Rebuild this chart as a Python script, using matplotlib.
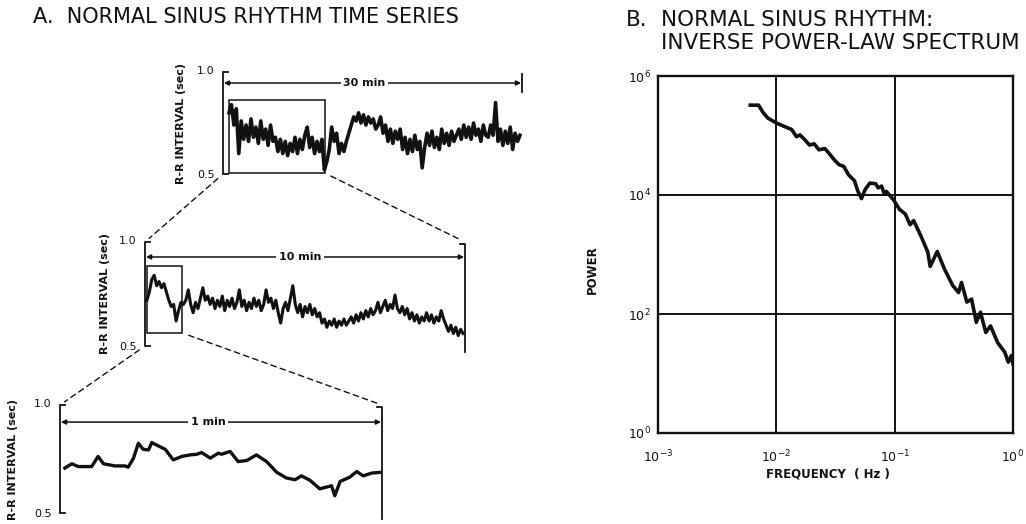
import numpy as np
import matplotlib
matplotlib.use("Agg")
import matplotlib.pyplot as plt
from matplotlib.patches import Rectangle, ConnectionPatch

W, H = 1026, 524
INK = "#111111"

# ── R-R interval, 30 min record (sec), read every ~0.25 min from 0.6 to 29.8 min
rr_30min = [0.80, 0.84, 0.74, 0.82, 0.60, 0.76, 0.67, 0.74, 0.66, 0.77,
            0.68, 0.73, 0.65, 0.76, 0.67, 0.72, 0.64, 0.74, 0.66, 0.68,
            0.61, 0.67, 0.60, 0.66, 0.59, 0.65, 0.61, 0.68, 0.60, 0.67,
            0.62, 0.69, 0.73, 0.63, 0.68, 0.60, 0.66, 0.61, 0.67, 0.52,
            0.56, 0.62, 0.73, 0.66, 0.70, 0.60, 0.65, 0.61, 0.66, 0.70,
            0.74, 0.78, 0.76, 0.80, 0.75, 0.79, 0.74, 0.78, 0.75, 0.77,
            0.72, 0.74, 0.78, 0.70, 0.74, 0.66, 0.72, 0.65, 0.71, 0.67,
            0.72, 0.62, 0.68, 0.60, 0.67, 0.61, 0.69, 0.62, 0.66, 0.53,
            0.63, 0.70, 0.64, 0.71, 0.63, 0.68, 0.62, 0.72, 0.65, 0.70,
            0.64, 0.71, 0.66, 0.69, 0.72, 0.67, 0.74, 0.68, 0.73, 0.67,
            0.75, 0.69, 0.72, 0.66, 0.74, 0.69, 0.68, 0.74, 0.69, 0.85,
            0.66, 0.72, 0.64, 0.71, 0.65, 0.73, 0.62, 0.70, 0.66, 0.69]
t_30min = np.linspace(0.6, 29.8, len(rr_30min))

# ── R-R interval, first 10 min (sec)
rr_10min = [0.72, 0.76, 0.82, 0.84, 0.79, 0.81, 0.78, 0.80, 0.76, 0.72,
            0.69, 0.70, 0.62, 0.67, 0.71, 0.70, 0.72, 0.77, 0.70, 0.66,
            0.71, 0.68, 0.73, 0.78, 0.72, 0.74, 0.70, 0.73, 0.68, 0.72,
            0.69, 0.74, 0.67, 0.72, 0.69, 0.73, 0.68, 0.71, 0.77, 0.69,
            0.72, 0.67, 0.71, 0.68, 0.73, 0.69, 0.72, 0.67, 0.70, 0.77,
            0.71, 0.73, 0.68, 0.72, 0.66, 0.61, 0.68, 0.71, 0.67, 0.73,
            0.79, 0.70, 0.66, 0.70, 0.64, 0.69, 0.66, 0.70, 0.65, 0.68,
            0.64, 0.66, 0.61, 0.63, 0.59, 0.62, 0.60, 0.63, 0.59, 0.62,
            0.60, 0.63, 0.60, 0.62, 0.64, 0.61, 0.65, 0.62, 0.66, 0.63,
            0.67, 0.64, 0.68, 0.65, 0.67, 0.71, 0.66, 0.69, 0.72, 0.67,
            0.70, 0.68, 0.745, 0.68, 0.66, 0.69, 0.65, 0.68, 0.63, 0.66,
            0.62, 0.65, 0.61, 0.64, 0.62, 0.66, 0.62, 0.65, 0.61, 0.64,
            0.62, 0.67, 0.63, 0.60, 0.57, 0.60, 0.56, 0.59, 0.55, 0.58,
            0.56]
t_10min = np.linspace(0.06, 9.94, len(rr_10min))

# ── R-R interval, first 1 min (time in sec)
t_1min = [0.9, 2.2, 3.4, 5.9, 7.1, 8.1, 10.2, 12.1, 12.7, 13.7, 14.6, 15.5,
          16.5, 17.1, 18.3, 19.6, 21.1, 22.7, 24.2, 25.5, 26.4, 28.0, 29.5,
          30.1, 31.7, 33.2, 34.8, 36.6, 38.5, 40.4, 42.2, 43.8, 45.0, 46.6,
          48.4, 50.6, 51.2, 52.2, 54.0, 55.3, 56.5, 58.1, 59.6]
rr_1min = [0.708, 0.728, 0.715, 0.715, 0.762, 0.728, 0.718, 0.718, 0.712,
           0.754, 0.823, 0.795, 0.792, 0.826, 0.811, 0.795, 0.746, 0.762,
           0.769, 0.772, 0.780, 0.754, 0.777, 0.772, 0.785, 0.738, 0.743,
           0.769, 0.738, 0.688, 0.662, 0.654, 0.672, 0.651, 0.612, 0.626,
           0.580, 0.646, 0.666, 0.692, 0.672, 0.685, 0.688]

# ── power spectrum (log10 Hz, log10 power)
log_freq = [-2.22, -2.15, -2.11, -2.07, -2.00, -1.93, -1.87, -1.83, -1.80,
            -1.76, -1.72, -1.68, -1.64, -1.59, -1.55, -1.51, -1.47, -1.43,
            -1.39, -1.34, -1.31, -1.28, -1.25, -1.21, -1.16, -1.14, -1.11,
            -1.09, -1.07, -1.01, -0.96, -0.91, -0.87, -0.84, -0.78, -0.72,
            -0.70, -0.64, -0.58, -0.51, -0.46, -0.435, -0.39, -0.35, -0.31,
            -0.275, -0.23, -0.19, -0.13, -0.07, -0.04, -0.014, 0.0]
log_power = [5.51, 5.51, 5.38, 5.29, 5.21, 5.15, 5.10, 4.98, 5.01,
             4.93, 4.84, 4.86, 4.76, 4.78, 4.69, 4.59, 4.51, 4.48,
             4.34, 4.24, 4.06, 3.94, 4.09, 4.20, 4.19, 4.12, 4.15,
             4.03, 4.06, 3.92, 3.76, 3.68, 3.50, 3.57, 3.32, 3.04,
             2.80, 3.05, 2.76, 2.48, 2.36, 2.53, 2.20, 2.25, 1.86,
             2.03, 1.69, 1.80, 1.52, 1.36, 1.19, 1.30, 1.16]

fig = plt.figure(figsize=(W / 100, H / 100), dpi=100)
fig.patch.set_facecolor("white")


def px_axes(l, t, r, b):
    return fig.add_axes([l / W, 1 - b / H, (r - l) / W, (b - t) / H])


def rr_panel(ax, span, arrow_y, label, label_x, right_bracket, ylab_dx):
    ax.set_xlim(0, span)
    ax.set_ylim(0.5, 1.0)
    ax.axis("off")
    tick = span * 0.016
    ax.plot([tick, 0, 0, tick], [1.0, 1.0, 0.5, 0.5], color=INK, lw=1.3,
            clip_on=False, solid_joinstyle="miter")
    if right_bracket:
        ax.plot([span - tick, span, span], [0.99, 0.99, 0.47], color=INK,
                lw=1.3, clip_on=False)
    else:
        ax.plot([span, span], [0.99, 0.90], color=INK, lw=1.3, clip_on=False)
    ax.annotate("", xy=(span * 0.003, arrow_y), xytext=(span * 0.997, arrow_y),
                arrowprops=dict(arrowstyle="<|-|>", color=INK, lw=1.1,
                                mutation_scale=7, shrinkA=0, shrinkB=0))
    ax.text(label_x, arrow_y, label, ha="center", va="center", fontsize=8,
            fontweight="bold", color=INK,
            bbox=dict(boxstyle="square,pad=0.25", fc="white", ec="none"))
    ax.annotate("1.0", xy=(0, 1.0), xytext=(-6, 1), textcoords="offset points",
                ha="right", va="center", fontsize=8, color=INK)
    ax.annotate("0.5", xy=(0, 0.5), xytext=(-6, -1), textcoords="offset points",
                ha="right", va="center", fontsize=8, color=INK)
    ax.text(ylab_dx, 0.5, "R-R INTERVAL (sec)", transform=ax.transAxes,
            rotation=90, ha="center", va="center", fontsize=8,
            fontweight="bold", color=INK)


# ── Panel A: three nested time series
ax1 = px_axes(223, 72, 522, 174)
rr_panel(ax1, 30, 0.946, "30 min", 14.2, False, -0.142)
ax1.plot(t_30min, rr_30min, color=INK, lw=2.6, solid_joinstyle="round")
ax1.add_patch(Rectangle((0.6, 0.505), 9.6, 0.358, fill=False, ec=INK, lw=1.1))

ax2 = px_axes(145, 242, 465, 346)
rr_panel(ax2, 10, 0.928, "10 min", 4.84, True, -0.125)
ax2.plot(t_10min, rr_10min, color=INK, lw=2.2, solid_joinstyle="round")
ax2.add_patch(Rectangle((0.06, 0.563), 1.1, 0.322, fill=False, ec=INK, lw=1.1))

ax3 = px_axes(60, 405, 382, 513)
rr_panel(ax3, 60, 0.921, "1 min", 27.6, True, -0.146)
ax3.plot(t_1min, rr_1min, color=INK, lw=2.4, solid_joinstyle="round")

dash = dict(linestyle=(0, (4, 3)), lw=1.0, color=INK, shrinkA=5, shrinkB=4)
for xa, ya, xb, yb, a, b in [(0, 0.5, 0, 1.0, ax1, ax2),
                              (10.2, 0.505, 10, 1.0, ax1, ax2),
                              (0, 0.5, 0, 1.0, ax2, ax3),
                              (1.16, 0.563, 60, 1.0, ax2, ax3)]:
    fig.add_artist(ConnectionPatch((xa, ya), (xb, yb), "data", "data",
                                   axesA=a, axesB=b, **dash))

fig.text(33 / W, 1 - 17 / H, "A.  NORMAL SINUS RHYTHM TIME SERIES",
         fontsize=15, color=INK, ha="left", va="center")

# ── Panel B: power spectrum
axb = px_axes(658, 76, 1013, 433)
axb.set_xscale("log")
axb.set_yscale("log")
axb.set_xlim(1e-3, 1)
axb.set_ylim(1, 1e6)
axb.plot(10 ** np.array(log_freq), 10 ** np.array(log_power), color=INK,
         lw=2.6, solid_joinstyle="round", zorder=3)
axb.set_xticks([1e-3, 1e-2, 1e-1, 1])
axb.set_xticklabels(["$10^{-3}$", "$10^{-2}$", "$10^{-1}$", "$10^{0}$"])
axb.set_yticks([1, 1e2, 1e4, 1e6])
axb.set_yticklabels(["$10^{0}$", "$10^{2}$", "$10^{4}$", "$10^{6}$"])
axb.minorticks_off()
axb.grid(True, color=INK, lw=1.4)
axb.tick_params(length=0, labelsize=9, colors=INK)
axb.tick_params(axis="x", pad=11)
axb.tick_params(axis="y", pad=5)
for s in axb.spines.values():
    s.set_linewidth(1.7)
    s.set_color(INK)

fig.text(592 / W, 1 - 270 / H, "POWER", rotation=90, fontsize=8.5,
         fontweight="bold", color=INK, ha="center", va="center")
fig.text(828 / W, 1 - 474 / H, "FREQUENCY  ( Hz )", fontsize=8.5,
         fontweight="bold", color=INK, ha="center", va="center")
fig.text(626 / W, 1 - 20 / H, "B.", fontsize=15.5, color=INK,
         ha="left", va="center")
fig.text(661 / W, 1 - 20 / H, "NORMAL SINUS RHYTHM:", fontsize=15.5,
         color=INK, ha="left", va="center")
fig.text(661 / W, 1 - 43 / H, "INVERSE POWER-LAW SPECTRUM", fontsize=15.5,
         color=INK, ha="left", va="center")

fig.savefig("out.png", dpi=100, facecolor="white")
